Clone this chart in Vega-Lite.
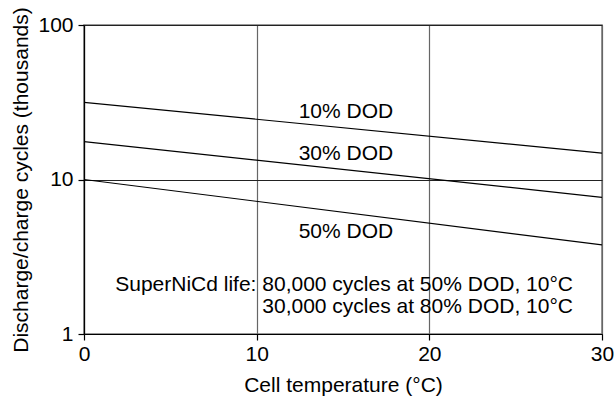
{
  "$schema": "https://vega.github.io/schema/vega-lite/v6.json",
  "width": 518,
  "height": 309,
  "autosize": {"type": "none"},
  "padding": {"left": 84, "top": 25, "right": 14, "bottom": 65},
  "background": "white",
  "config": {
    "font": "Liberation Sans",
    "view": {"stroke": "#777", "strokeWidth": 1.5},
    "axis": {
      "domainColor": "black",
      "tickColor": "black",
      "labelColor": "black",
      "titleColor": "black",
      "labelFontSize": 21,
      "titleFontSize": 21,
      "titleFontWeight": "normal",
      "tickSize": 6,
      "domainWidth": 1.2,
      "tickWidth": 1.2,
      "labelFlush": false
    }
  },
  "datasets": {
    "curves": [
      {"series": "10% DOD", "temp": 0, "cycles": 31.6},
      {"series": "10% DOD", "temp": 30, "cycles": 14.8},
      {"series": "30% DOD", "temp": 0, "cycles": 17.6},
      {"series": "30% DOD", "temp": 30, "cycles": 7.67},
      {"series": "50% DOD", "temp": 0, "cycles": 10},
      {"series": "50% DOD", "temp": 30, "cycles": 3.77}
    ],
    "labels": [
      {"text": "10% DOD", "temp": 15.17, "cycles": 25.0},
      {"text": "30% DOD", "temp": 15.17, "cycles": 13.4},
      {"text": "50% DOD", "temp": 15.17, "cycles": 4.18}
    ],
    "notes": [
      {"text": "SuperNiCd life: 80,000 cycles at 50% DOD, 10°C", "temp": 28.32, "cycles": 1.898},
      {"text": "30,000 cycles at 80% DOD, 10°C", "temp": 28.32, "cycles": 1.374}
    ]
  },
  "layer": [
    {
      "data": {"name": "curves"},
      "mark": {"type": "line", "color": "black", "strokeWidth": 1.2, "clip": true},
      "encoding": {
        "x": {
          "field": "temp", "type": "quantitative",
          "scale": {"domain": [0, 30], "nice": false},
          "axis": {
            "values": [0, 10, 20, 30],
            "title": "Cell temperature (°C)",
            "grid": true, "gridColor": "#666", "gridWidth": 1.2,
            "labelPadding": 3,
            "titlePadding": 10
          }
        },
        "y": {
          "field": "cycles", "type": "quantitative",
          "scale": {"type": "log", "domain": [1, 100], "nice": false},
          "axis": {
            "values": [1, 10, 100],
            "format": "d",
            "title": "Discharge/charge cycles (thousands)",
            "grid": true, "gridColor": "#222", "gridWidth": 1.2,
            "labelPadding": 5,
            "titlePadding": 6
          }
        },
        "detail": {"field": "series"}
      }
    },
    {
      "data": {"name": "labels"},
      "mark": {"type": "text", "fontSize": 21, "align": "center", "baseline": "alphabetic", "color": "black"},
      "encoding": {
        "x": {"field": "temp", "type": "quantitative"},
        "y": {"field": "cycles", "type": "quantitative"},
        "text": {"field": "text"}
      }
    },
    {
      "data": {"name": "notes"},
      "mark": {"type": "text", "fontSize": 21, "align": "right", "baseline": "alphabetic", "color": "black"},
      "encoding": {
        "x": {"field": "temp", "type": "quantitative"},
        "y": {"field": "cycles", "type": "quantitative"},
        "text": {"field": "text"}
      }
    }
  ]
}
